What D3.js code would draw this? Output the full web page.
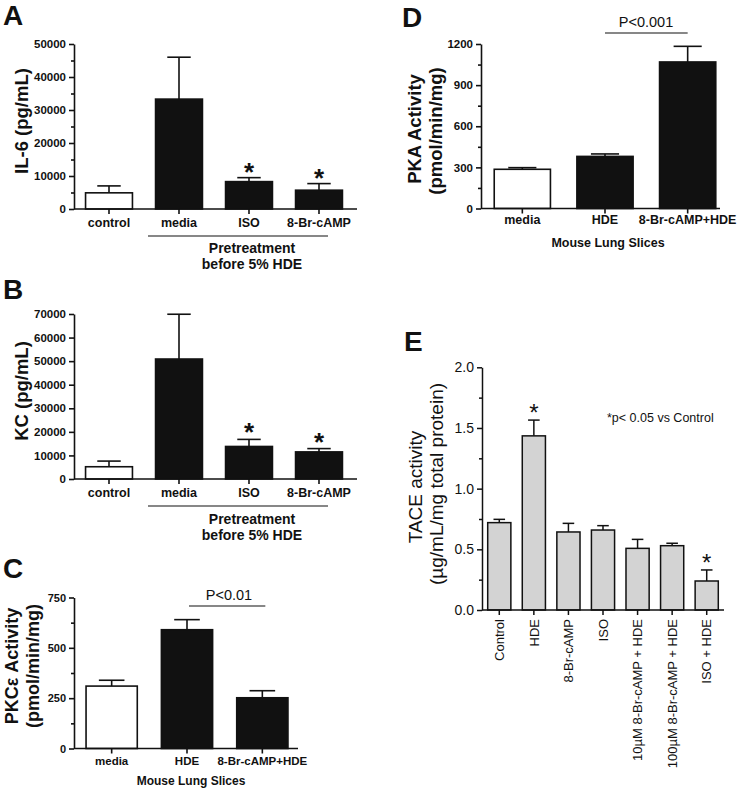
<!DOCTYPE html>
<html><head><meta charset="utf-8">
<script src="https://cdn.jsdelivr.net/npm/d3@7"></script>
<style>
body{margin:0;background:#fff}
svg{display:block}
text{font-family:"Liberation Sans",Arial,Helvetica,sans-serif;fill:#111}
</style>
</head><body>
<svg id="chart" width="738" height="790"></svg>
<script>
// ---------- DATA ----------
const catsAB = ["control", "media", "ISO", "8-Br-cAMP"];
const il6Values = [4900, 33300, 8300, 5700];
const il6Errors = [2100, 12700, 1200, 2000];
const il6Sig = [false, false, true, true];
const il6Major = [0, 10000, 20000, 30000, 40000, 50000];
const il6Minor = [5000, 15000, 25000, 35000, 45000];

const kcValues = [5200, 50900, 13800, 11500];
const kcErrors = [2400, 19000, 3000, 1400];
const kcSig = [false, false, true, true];
const kcMajor = [0, 10000, 20000, 30000, 40000, 50000, 60000, 70000];
const kcMinor = [];

const catsCD = ["media", "HDE", "8-Br-cAMP+HDE"];
const pkcValues = [310, 590, 252];
const pkcErrors = [29, 50, 35];
const pkcMajor = [0, 250, 500, 750];
const pkcMinor = [125, 375, 625];

const pkaValues = [286, 380, 1069];
const pkaErrors = [12, 18, 114];
const pkaMajor = [0, 300, 600, 900, 1200];
const pkaMinor = [150, 450, 750, 1050];

const catsE = ["Control", "HDE", "8-Br-cAMP", "ISO", "10µM 8-Br-cAMP + HDE", "100µM 8-Br-cAMP + HDE", "ISO + HDE"];
const taceValues = [0.72, 1.435, 0.643, 0.659, 0.508, 0.53, 0.239];
const taceErrors = [0.027, 0.13, 0.071, 0.036, 0.074, 0.02, 0.091];
const taceSig = [false, true, false, false, false, false, true];
const taceMajor = [0, 0.5, 1.0, 1.5, 2.0];
const taceMinor = [0.25, 0.75, 1.25, 1.75];

// ---------- DRAW ----------
const svg = d3.select("#chart");
const INK = "#111";

function panel(p) {
  const g = svg.append("g");
  const x = d3.scaleBand().domain(p.cats).range(p.xRange)
    .paddingInner(p.pad).paddingOuter(p.pad / 2);
  const y = d3.scaleLinear().domain(p.yDomain).range(p.yRange);
  const bw = x.bandwidth();

  const eb = g.append("g").attr("stroke", INK).attr("stroke-width", p.sw);
  eb.selectAll("line.v").data(p.cats).join("line")
    .attr("x1", d => x(d) + bw / 2).attr("x2", d => x(d) + bw / 2)
    .attr("y1", (d, i) => y(p.vals[i])).attr("y2", (d, i) => y(p.vals[i] + p.errs[i]));
  eb.selectAll("line.c").data(p.cats).join("line")
    .attr("x1", d => x(d) + bw / 4).attr("x2", d => x(d) + 3 * bw / 4)
    .attr("y1", (d, i) => y(p.vals[i] + p.errs[i])).attr("y2", (d, i) => y(p.vals[i] + p.errs[i]));

  g.selectAll("rect.bar").data(p.cats).join("rect")
    .attr("x", d => x(d)).attr("width", bw)
    .attr("y", (d, i) => y(p.vals[i]))
    .attr("height", (d, i) => y(0) - y(p.vals[i]))
    .attr("fill", (d, i) => p.fill(i))
    .attr("stroke", INK).attr("stroke-width", p.sw);

  const ya = d3.axisLeft(y).tickValues(p.major).tickSize(5).tickSizeOuter(0).tickPadding(3)
    .tickFormat(p.fmt);
  const gy = g.append("g").attr("transform", `translate(${p.xRange[0]},0)`).call(ya);
  gy.attr("font-family", null);
  gy.select(".domain").attr("stroke", INK).attr("stroke-width", p.sw);
  gy.selectAll(".tick line").attr("stroke", INK).attr("stroke-width", p.sw);
  gy.selectAll(".tick text").attr("font-size", p.tickFs).attr("font-weight", p.bold ? "bold" : "normal")
    .attr("fill", INK);
  if (p.minor.length) {
    const ym = d3.axisLeft(y).tickValues(p.minor).tickSize(3).tickSizeOuter(0).tickFormat("");
    const gm = g.append("g").attr("transform", `translate(${p.xRange[0]},0)`).call(ym);
    gm.select(".domain").remove();
    gm.selectAll(".tick line").attr("stroke", INK).attr("stroke-width", p.sw);
  }

  const xa = d3.axisBottom(x).tickSize(5).tickSizeOuter(0).tickFormat("");
  const gx = g.append("g").attr("transform", `translate(0,${p.yRange[0]})`).call(xa);
  gx.select(".domain").remove();
  gx.selectAll(".tick line").attr("stroke", INK).attr("stroke-width", p.sw);
  g.append("line").attr("x1", p.xRange[0]).attr("x2", p.axisEnd)
    .attr("y1", p.yRange[0]).attr("y2", p.yRange[0])
    .attr("stroke", INK).attr("stroke-width", p.sw);

  if (p.rotateCats) {
    g.selectAll("text.cat").data(p.cats).join("text")
      .attr("transform", d => `translate(${x(d) + bw / 2 + 4.7},${p.yRange[0] + 9}) rotate(-90)`)
      .attr("text-anchor", "end").attr("font-size", p.catFs)
      .text(d => d);
  } else {
    g.selectAll("text.cat").data(p.cats).join("text")
      .attr("x", d => x(d) + bw / 2).attr("y", p.catY)
      .attr("text-anchor", "middle").attr("font-size", p.catFs).attr("font-weight", "bold")
      .text(d => d);
  }

  if (p.sig) {
    g.selectAll("text.star").data(p.cats.filter((d, i) => p.sig[i])).join("text")
      .attr("x", d => x(d) + bw / 2)
      .attr("y", d => { const i = p.cats.indexOf(d); return y(p.vals[i] + p.errs[i]) + p.starDy; })
      .attr("text-anchor", "middle").attr("font-size", p.starFs)
      .attr("font-weight", p.bold ? "bold" : "normal").text("*");
  }

  p.yTitle.forEach(t => {
    g.append("text").attr("transform", `translate(${t.x},${t.y}) rotate(-90)`)
      .attr("text-anchor", "middle").attr("font-size", p.yTitleFs)
      .attr("font-weight", p.bold ? "bold" : "normal").text(t.s);
  });

  g.append("text").attr("x", p.letter.x).attr("y", p.letter.y)
    .attr("font-size", 28).attr("font-weight", "bold").text(p.letter.s);

  return { g, x, y, bw };
}

const fillAB = i => i === 0 ? "#fff" : "#111";

// Panel A
const A = panel({
  cats: catsAB, vals: il6Values, errs: il6Errors, sig: il6Sig, fill: fillAB,
  xRange: [74, 354], axisEnd: 357, pad: 0.33, yDomain: [0, 50000], yRange: [209, 44],
  major: il6Major, minor: il6Minor, fmt: d3.format("d"), sw: 1.6, bold: true,
  tickFs: 11.5, catFs: 12.5, catY: 227, starFs: 26, starDy: 3.5, yTitleFs: 18.5,
  yTitle: [{ s: "IL-6 (pg/mL)", x: 28, y: 121 }], letter: { s: "A", x: 3, y: 25 }
});
A.g.append("line").attr("x1", 148).attr("x2", 328).attr("y1", 236).attr("y2", 236)
  .attr("stroke", INK).attr("stroke-width", 1.2);
A.g.append("text").attr("x", 252).attr("y", 253).attr("text-anchor", "middle")
  .attr("font-size", 14).attr("font-weight", "bold").text("Pretreatment");
A.g.append("text").attr("x", 252).attr("y", 269).attr("text-anchor", "middle")
  .attr("font-size", 14).attr("font-weight", "bold").text("before 5% HDE");

// Panel B
const B = panel({
  cats: catsAB, vals: kcValues, errs: kcErrors, sig: kcSig, fill: fillAB,
  xRange: [74, 354], axisEnd: 357, pad: 0.33, yDomain: [0, 70000], yRange: [479, 314],
  major: kcMajor, minor: kcMinor, fmt: d3.format("d"), sw: 1.6, bold: true,
  tickFs: 11.5, catFs: 12.5, catY: 497, starFs: 26, starDy: 2, yTitleFs: 18.5,
  yTitle: [{ s: "KC (pg/mL)", x: 28, y: 391 }], letter: { s: "B", x: 3, y: 299 }
});
B.g.append("line").attr("x1", 148).attr("x2", 328).attr("y1", 506).attr("y2", 506)
  .attr("stroke", INK).attr("stroke-width", 1.2);
B.g.append("text").attr("x", 252).attr("y", 524).attr("text-anchor", "middle")
  .attr("font-size", 14).attr("font-weight", "bold").text("Pretreatment");
B.g.append("text").attr("x", 252).attr("y", 540).attr("text-anchor", "middle")
  .attr("font-size", 14).attr("font-weight", "bold").text("before 5% HDE");

// Panel C
const C = panel({
  cats: catsCD, vals: pkcValues, errs: pkcErrors, sig: null, fill: fillAB,
  xRange: [74, 300], axisEnd: 298, pad: 0.32, yDomain: [0, 750], yRange: [748.5, 597.5],
  major: pkcMajor, minor: pkcMinor, fmt: d3.format("d"), sw: 1.6, bold: true,
  tickFs: 11, catFs: 11.5, catY: 765, yTitleFs: 18,
  yTitle: [{ s: "PKCε Activity", x: 18, y: 666 }, { s: "(pmol/min/mg)", x: 39, y: 666 }],
  letter: { s: "C", x: 3, y: 578 }
});
C.g.append("line").attr("x1", C.x("HDE") + C.bw / 2 + 2).attr("x2", C.x("8-Br-cAMP+HDE") + C.bw / 2 + 3)
  .attr("y1", 606).attr("y2", 606).attr("stroke", INK).attr("stroke-width", 1.2);
C.g.append("text").attr("x", 229).attr("y", 600).attr("text-anchor", "middle")
  .attr("font-size", 14.5).text("P<0.01");
C.g.append("text").attr("x", 191).attr("y", 785).attr("text-anchor", "middle")
  .attr("font-size", 12).attr("font-weight", "bold").text("Mouse Lung Slices");

// Panel D
const D = panel({
  cats: catsCD, vals: pkaValues, errs: pkaErrors, sig: null, fill: fillAB,
  xRange: [481, 729], axisEnd: 720, pad: 0.32, yDomain: [0, 1200], yRange: [208.5, 44],
  major: pkaMajor, minor: pkaMinor, fmt: d3.format("d"), sw: 1.6, bold: true,
  tickFs: 11.5, catFs: 12.5, catY: 224, yTitleFs: 18.5,
  yTitle: [{ s: "PKA Activity", x: 421, y: 129 }, { s: "(pmol/min/mg)", x: 442, y: 131 }],
  letter: { s: "D", x: 402, y: 27 }
});
D.g.append("line").attr("x1", D.x("HDE") + D.bw / 2).attr("x2", D.x("8-Br-cAMP+HDE") + D.bw / 2)
  .attr("y1", 33).attr("y2", 33).attr("stroke", INK).attr("stroke-width", 1.2);
D.g.append("text").attr("x", 646).attr("y", 27).attr("text-anchor", "middle")
  .attr("font-size", 14.5).text("P<0.001");
D.g.append("text").attr("x", 608).attr("y", 247).attr("text-anchor", "middle")
  .attr("font-size", 12.5).attr("font-weight", "bold").text("Mouse Lung Slices");

// Panel E
const E = panel({
  cats: catsE, vals: taceValues, errs: taceErrors, sig: taceSig, fill: () => "#d3d3d3",
  xRange: [482, 724], axisEnd: 724, pad: 0.33, yDomain: [0, 2], yRange: [610, 367.3],
  major: taceMajor, minor: taceMinor, fmt: d3.format(".1f"), sw: 1.5, bold: false,
  tickFs: 14, catFs: 13, rotateCats: true, starFs: 24, starDy: 1, yTitleFs: 19,
  yTitle: [{ s: "TACE activity", x: 422, y: 487 }, { s: "(µg/mL/mg total protein)", x: 443, y: 484 }],
  letter: { s: "E", x: 404, y: 351 }
});
E.g.append("text").attr("x", 607).attr("y", 422).attr("font-size", 12.5).text("*p< 0.05 vs Control");
</script>
</body></html>
